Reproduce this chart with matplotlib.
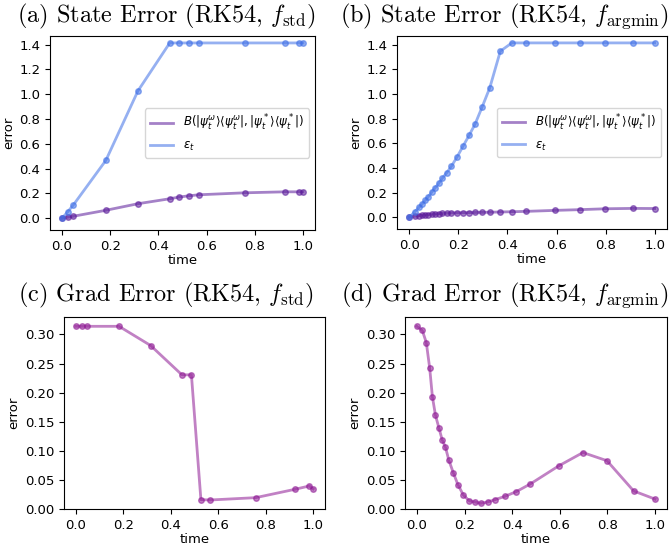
import numpy as np
import matplotlib
matplotlib.use('Agg')
from matplotlib import pyplot as plt

plt.rcParams['font.size'] = 9.5
plt.rcParams['axes.unicode_minus'] = False

# time steps of the adaptive solver, f_std run
t_std = [0, 0.024, 0.047, 0.182, 0.315, 0.447, 0.487, 0.527, 0.567, 0.758, 0.925, 0.984, 1.0]
bures_std = [0, 0.008, 0.016, 0.064, 0.117, 0.157, 0.171, 0.181, 0.189, 0.205, 0.213, 0.213, 0.213]
eps_std = [0, 0.053, 0.107, 0.467, 1.027, 1.414, 1.414, 1.414, 1.414, 1.414, 1.414, 1.414, 1.414]
grad_std = [0.314, 0.314, 0.314, 0.314, 0.281, 0.2306, 0.2306, 0.016, 0.0155, 0.0195, 0.034, 0.0396, 0.0344]

# time steps, f_argmin run
t_arg = [0, 0.0226, 0.0395, 0.0537, 0.065, 0.078, 0.092, 0.106, 0.120, 0.134, 0.153, 0.172, 0.195,
         0.220, 0.244, 0.268, 0.297, 0.328, 0.371, 0.418, 0.476, 0.595, 0.697, 0.798, 0.910, 1.0]
bures_arg = [0, 0.008, 0.013, 0.017, 0.02, 0.022, 0.025, 0.027, 0.029, 0.031, 0.033, 0.035, 0.036,
             0.037, 0.038, 0.039, 0.040, 0.041, 0.043, 0.045, 0.048, 0.056, 0.062, 0.069, 0.072, 0.071]
eps_arg = [0, 0.045, 0.08, 0.11, 0.137, 0.168, 0.205, 0.24, 0.275, 0.315, 0.362, 0.415, 0.49,
           0.58, 0.665, 0.755, 0.895, 1.05, 1.347, 1.414, 1.414, 1.414, 1.414, 1.414, 1.414, 1.414]
grad_arg = [0.314, 0.307, 0.286, 0.242, 0.193, 0.161, 0.140, 0.119, 0.106, 0.084, 0.062, 0.042, 0.024,
            0.014, 0.012, 0.0097, 0.012, 0.016, 0.022, 0.030, 0.043, 0.074, 0.097, 0.083, 0.031, 0.017]

titles = [r'(a) State Error (RK54, $f_{\mathrm{std}}$)',
          r'(b) State Error (RK54, $f_{\mathrm{argmin}}$)',
          r'(c) Grad Error (RK54, $f_{\mathrm{std}}$)',
          r'(d) Grad Error (RK54, $f_{\mathrm{argmin}}$)']
bures_label = r'$B(|\psi_t^\omega\rangle\langle\psi_t^\omega|, |\psi_t^*\rangle\langle\psi_t^*|)$'
eps_label = r'$\varepsilon_t$'

c_bures = '#5a1a9a'
c_eps = '#3f6fe6'
c_grad = '#8e1a94'

W, H = 672, 548
fig = plt.figure(figsize=(W / 100, H / 100), dpi=100)


def box(l, t, r, b):
    return [l / W, 1 - b / H, (r - l) / W, (b - t) / H]


ax_a = fig.add_axes(box(50, 36, 315, 230))
ax_b = fig.add_axes(box(397, 36, 667, 229))
ax_c = fig.add_axes(box(64, 317, 325, 509))
ax_d = fig.add_axes(box(405, 317, 667, 509))

kw = dict(linewidth=2, alpha=0.55)
mkw = dict(linestyle='none', marker='o', markersize=4, alpha=0.55)

for ax, t, b, e in [(ax_a, t_std, bures_std, eps_std), (ax_b, t_arg, bures_arg, eps_arg)]:
    ax.plot(t, b, color=c_bures, label=bures_label, **kw)
    ax.plot(t, b, color=c_bures, **mkw)
    ax.plot(t, e, color=c_eps, label=eps_label, **kw)
    ax.plot(t, e, color=c_eps, **mkw)
    ax.legend(loc='center right', fontsize=8.5)
    ax.set_yticks(np.arange(0, 1.41, 0.2))
    ax.set_ylim(-0.095, 1.47)

for ax, t, g in [(ax_c, t_std, grad_std), (ax_d, t_arg, grad_arg)]:
    ax.plot(t, g, color=c_grad, **kw)
    ax.plot(t, g, color=c_grad, **mkw)
    ax.set_ylim(0, 0.33)

for ax in [ax_a, ax_b, ax_c, ax_d]:
    ax.set_xlabel('time', labelpad=1)
    ax.set_ylabel('error', labelpad=3)
    ax.set_xticks(np.arange(0, 1.01, 0.2))

tfont = dict(family='cmr10', math_fontfamily='cm', fontsize=17.5, ha='center', va='center')
fig.text(166 / W, 1 - 16 / H, titles[0], **tfont)
fig.text(505 / W, 1 - 16 / H, titles[1], **tfont)
fig.text(166 / W, 1 - 295 / H, titles[2], **tfont)
fig.text(505 / W, 1 - 295 / H, titles[3], **tfont)

fig.savefig('out.png', dpi=100)
